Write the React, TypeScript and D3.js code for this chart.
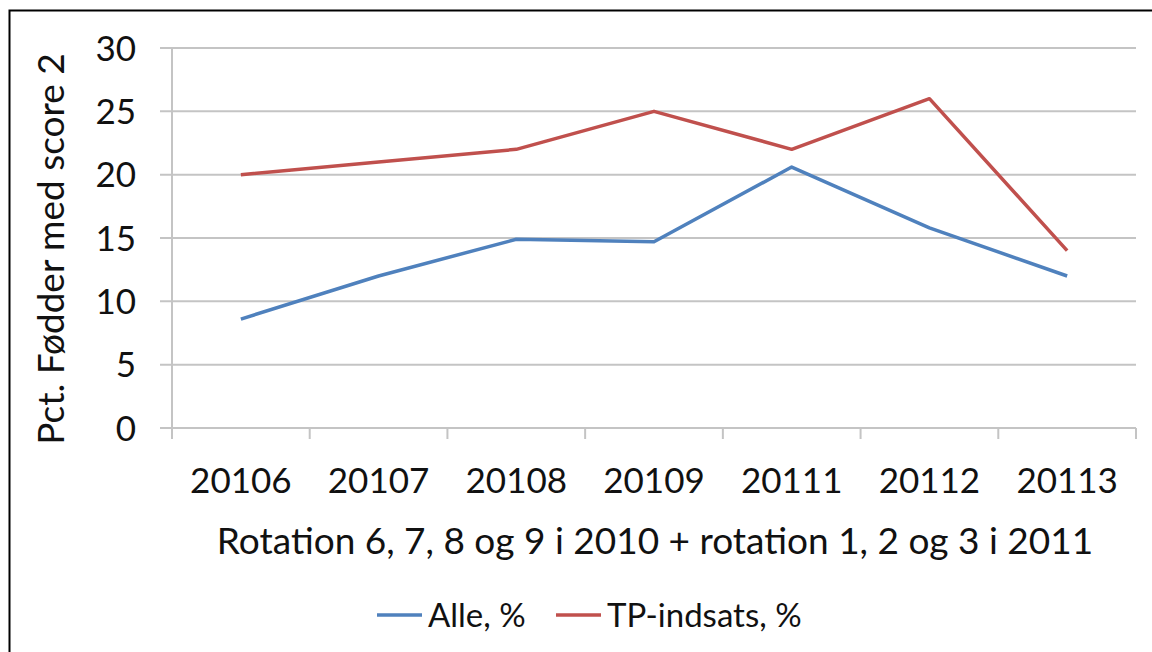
import { useEffect, useRef } from 'react';
import * as d3 from 'd3';

const categories = ['20106', '20107', '20108', '20109', '20111', '20112', '20113'];
const alle = [8.6, 12.0, 14.9, 14.7, 20.6, 15.8, 12.0];
const tpIndsats = [20.0, 21.0, 22.0, 25.0, 22.0, 26.0, 14.0];
const yTicks = [0, 5, 10, 15, 20, 25, 30];
const seriesNames = ['Alle, %', 'TP-indsats, %'];
const seriesColors = ['#4F81BD', '#C0504D'];

const App = () => {
  const svgRef = useRef<SVGSVGElement | null>(null);

  useEffect(() => {
    const root = d3.select(svgRef.current);
    root.selectAll('*').remove();

    const width = 1152;
    const height = 652;
    const font = 'Lato, "Open Sans", sans-serif';
    // plot area in page coords
    const left = 172;
    const right = 1136;
    const top = 48;
    const bottom = 428;

    root.attr('width', width).attr('height', height);
    const svg = root.append('g');

    // outer frame (only left/top edges visible in the picture)
    svg.append('path')
      .attr('d', `M9.5,${height} V10.5 H${width}`)
      .attr('fill', 'none')
      .attr('stroke', '#000').attr('stroke-width', 2);

    const x = d3.scaleBand().domain(categories).range([left, right]);
    const y = d3.scaleLinear().domain([0, 30]).range([bottom, top]);

    // gridlines
    svg.append('g')
      .selectAll('line')
      .data(yTicks)
      .enter()
      .append('line')
      .attr('x1', left - 12).attr('x2', right)
      .attr('y1', d => y(d)).attr('y2', d => y(d))
      .attr('stroke', '#c4c4c4').attr('stroke-width', 2);

    // y axis line
    svg.append('line')
      .attr('x1', left).attr('x2', left)
      .attr('y1', top).attr('y2', bottom + 11)
      .attr('stroke', '#c4c4c4').attr('stroke-width', 2);

    // x tick marks at band edges
    const edges = categories.map(c => x(c) as number).concat([right]);
    svg.append('g')
      .selectAll('line')
      .data(edges.slice(1))
      .enter()
      .append('line')
      .attr('x1', d => d).attr('x2', d => d)
      .attr('y1', bottom).attr('y2', bottom + 11)
      .attr('stroke', '#c4c4c4').attr('stroke-width', 2);

    // y tick labels
    svg.append('g')
      .selectAll('text')
      .data(yTicks)
      .enter()
      .append('text')
      .attr('x', left - 36)
      .attr('y', d => y(d))
      .attr('dy', '0.36em')
      .attr('text-anchor', 'end')
      .style('font-family', font)
      .style('font-size', '35px')
      .attr('fill', '#111')
      .text(d => d);

    // x tick labels
    svg.append('g')
      .selectAll('text')
      .data(categories)
      .enter()
      .append('text')
      .attr('x', d => (x(d) as number) + x.bandwidth() / 2)
      .attr('y', bottom + 65)
      .attr('text-anchor', 'middle')
      .style('font-family', font)
      .style('font-size', '35px')
      .attr('fill', '#111')
      .text(d => d);

    // x axis title
    svg.append('text')
      .attr('x', 655)
      .attr('y', bottom + 126)
      .attr('text-anchor', 'middle')
      .style('font-family', font)
      .style('font-size', '37px')
      .attr('fill', '#111')
      .text('Rotation 6, 7, 8 og 9 i 2010 + rotation 1, 2 og 3 i 2011');

    // y axis title
    svg.append('text')
      .attr('transform', `translate(64, 249) rotate(-90)`)
      .attr('text-anchor', 'middle')
      .style('font-family', font)
      .style('font-size', '37px')
      .attr('fill', '#111')
      .text('Pct. Fødder med score 2');

    // lines
    const line = d3.line<number>()
      .x((_, i) => (x(categories[i]) as number) + x.bandwidth() / 2)
      .y(d => y(d));

    [alle, tpIndsats].forEach((values, i) => {
      svg.append('path')
        .datum(values)
        .attr('d', line)
        .attr('fill', 'none')
        .attr('stroke', seriesColors[i])
        .attr('stroke-width', 3.5)
        .attr('stroke-linejoin', 'round');
    });

    // legend
    const legendX = [377, 556];
    seriesNames.forEach((name, i) => {
      const g = svg.append('g').attr('transform', `translate(${legendX[i]}, 615)`);
      g.append('line')
        .attr('x1', 0).attr('x2', 45)
        .attr('stroke', seriesColors[i]).attr('stroke-width', 3.5);
      g.append('text')
        .attr('x', 51)
        .attr('dy', '0.36em')
        .style('font-family', font)
        .style('font-size', '33px')
        .attr('fill', '#111')
        .text(name);
    });
  }, []);

  return (
    <svg
      ref={svgRef}
      style={{ position: 'fixed', left: 0, top: 0, display: 'block', background: '#fff' }}
    ></svg>
  );
};

export default App;
